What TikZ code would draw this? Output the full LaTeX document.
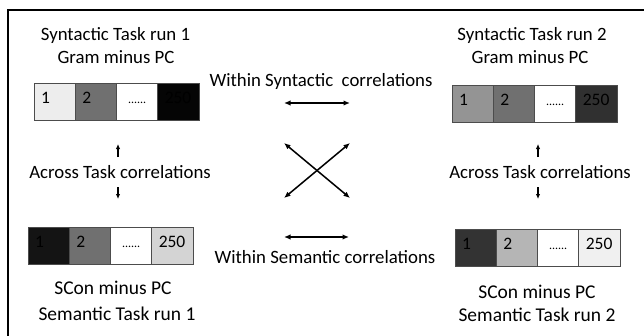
\documentclass[tikz,border=0pt]{standalone}
\usepackage{fontspec}
\setmainfont{Carlito}
\usepackage{tikz}
\usetikzlibrary{
    positioning,
    arrows.meta
}
\tikzset{
    lbl/.style={anchor=base, font=\fontsize{18.8}{22}\selectfont},
    lblb/.style={anchor=base, font=\fontsize{19.5}{22}\selectfont},
    cell/.style={draw=black!70, line width=0.8pt, outer sep=0pt, inner xsep=7pt,
        text width=27.25pt, align=left, minimum height=37.5pt,
        text height=12pt, text depth=8pt, font=\fontsize{17.5}{20}\selectfont},
    dots/.style={cell, align=center, font=\fontsize{12}{14}\selectfont},
    corr/.style={{Latex[length=6.5pt,width=5.5pt]}-{Latex[length=6.5pt,width=5.5pt]}, line width=1.5pt},
    tsk/.style={-{Latex[length=5pt,width=4.5pt]}, line width=1.2pt}
}

\begin{document}
\begin{tikzpicture}[x=1pt,y=-1pt]
\useasboundingbox (0,0) rectangle (644,335);
\draw[line width=2.2pt] (8,345) -- (8,10) -- (654,10);

%% syntactic run 1
\node[lbl] (t1a) at (115.5,40.7) {Syntactic Task run 1};
\node[lbl] (t1b) at (116,63.3) {Gram minus PC};
\node[cell, fill=black!7, anchor=north west] (a1) at (34,83) {1};
\node[cell, fill=black!56, right=0pt of a1] (a2) {2};
\node[dots, fill=white, right=0pt of a2] (a3) {......};
\node[cell, fill=black!98, right=0pt of a3] (a4) {250};

%% syntactic run 2
\node[lbl] (t2a) at (532,40.7) {Syntactic Task run 2};
\node[lbl] (t2b) at (530,63.3) {Gram minus PC};
\node[cell, fill=black!42, anchor=north west] (b1) at (452,85) {1};
\node[cell, fill=black!56, right=0pt of b1] (b2) {2};
\node[dots, fill=white, right=0pt of b2] (b3) {......};
\node[cell, fill=black!81, right=0pt of b3] (b4) {250};

%% semantic run 1
\node[cell, fill=black!92, anchor=north west] (c1) at (28,227) {1};
\node[cell, fill=black!56, right=0pt of c1] (c2) {2};
\node[dots, fill=white, right=0pt of c2] (c3) {......};
\node[cell, fill=black!17, right=0pt of c3] (c4) {250};
\node[lblb] (t3a) at (113,294) {SCon minus PC};
\node[lblb] (t3b) at (117,320) {Semantic Task run 1};

%% semantic run 2
\node[cell, fill=black!80, anchor=north west] (d1) at (455,229) {1};
\node[cell, fill=black!29, right=0pt of d1] (d2) {2};
\node[dots, fill=white, right=0pt of d2] (d3) {......};
\node[cell, fill=black!6, right=0pt of d3] (d4) {250};
\node[lblb] (t4a) at (537,298) {SCon minus PC};
\node[lblb] (t4b) at (537,321.5) {Semantic Task run 2};

%% within
\node[lbl] (wsyn) at (321,86) {Within Syntactic\ \ correlations};
\node[lbl] (wsem) at (325,263) {Within Semantic correlations};
\coordinate (sl) at (284,103);
\coordinate (sr) at (350,103);
\coordinate (ml) at (284,237);
\coordinate (mr) at (349,237);
\draw[corr] (sl) -- (sr);
\draw[corr] (ml) -- (mr);

%% cross
\coordinate (xa) at (284,143);
\coordinate (xb) at (350,198);
\coordinate (xc) at (350,143);
\coordinate (xd) at (284,198);
\draw[corr] (xa) -- (xb);
\draw[corr] (xd) -- (xc);

%% across task
\node[lbl] (acl) at (120,178) {Across Task correlations};
\node[lbl] (acr) at (540,178) {Across Task correlations};
\coordinate (ula) at (118,157);
\coordinate (ulb) at (118,144);
\coordinate (dla) at (118,187);
\coordinate (dlb) at (118,199);
\coordinate (ura) at (538,157);
\coordinate (urb) at (538,144);
\coordinate (dra) at (538,187);
\coordinate (drb) at (538,199);
\draw[tsk] (ula) -- (ulb);
\draw[tsk] (dla) -- (dlb);
\draw[tsk] (ura) -- (urb);
\draw[tsk] (dra) -- (drb);
\end{tikzpicture}
\end{document}
